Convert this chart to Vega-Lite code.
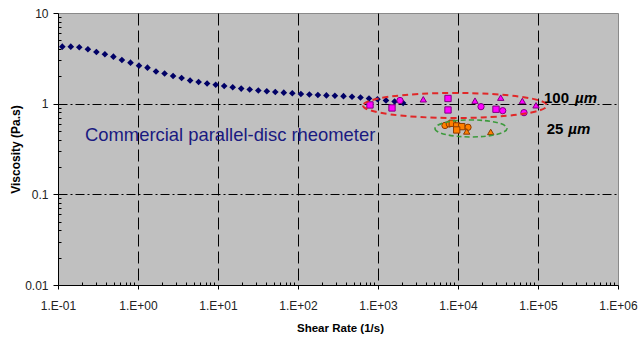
{
  "$schema": "https://vega.github.io/schema/vega-lite/v6.json",
  "width": 560,
  "height": 272,
  "autosize": {"type": "none"},
  "padding": {"left": 58, "top": 13, "right": 23, "bottom": 54},
  "config": {
    "view": {"fill": "#c0c0c0", "stroke": "#8a8a8a", "strokeWidth": 1},
    "font": "Liberation Sans",
    "axis": {"labelFont": "Liberation Sans", "titleFont": "Liberation Sans"}
  },
  "datasets": {
    "rheometer": [
      {"rate": 0.1132, "viscosity": 4.251}, {"rate": 0.1445, "viscosity": 4.251}, {"rate": 0.1845, "viscosity": 4.187},
      {"rate": 0.2364, "viscosity": 3.979}, {"rate": 0.302, "viscosity": 3.715}, {"rate": 0.3857, "viscosity": 3.505},
      {"rate": 0.4926, "viscosity": 3.298}, {"rate": 0.629, "viscosity": 3.032}, {"rate": 0.806, "viscosity": 2.831},
      {"rate": 1.029, "viscosity": 2.624}, {"rate": 1.314, "viscosity": 2.494}, {"rate": 1.679, "viscosity": 2.265},
      {"rate": 2.15, "viscosity": 2.153}, {"rate": 2.746, "viscosity": 2.02}, {"rate": 3.508, "viscosity": 1.92},
      {"rate": 4.48, "viscosity": 1.803}, {"rate": 5.722, "viscosity": 1.735}, {"rate": 7.308, "viscosity": 1.67},
      {"rate": 9.36, "viscosity": 1.616}, {"rate": 11.95, "viscosity": 1.567}, {"rate": 15.27, "viscosity": 1.516},
      {"rate": 19.5, "viscosity": 1.467}, {"rate": 24.9, "viscosity": 1.431}, {"rate": 31.9, "viscosity": 1.398},
      {"rate": 40.74, "viscosity": 1.37}, {"rate": 52.03, "viscosity": 1.346}, {"rate": 66.45, "viscosity": 1.322},
      {"rate": 84.87, "viscosity": 1.302}, {"rate": 108.7, "viscosity": 1.279}, {"rate": 138.8, "viscosity": 1.263},
      {"rate": 177.3, "viscosity": 1.247}, {"rate": 226.5, "viscosity": 1.234}, {"rate": 289.2, "viscosity": 1.222},
      {"rate": 370.5, "viscosity": 1.21}, {"rate": 473.2, "viscosity": 1.191}, {"rate": 604.4, "viscosity": 1.168},
      {"rate": 771.9, "viscosity": 1.141}, {"rate": 985.7, "viscosity": 1.118}, {"rate": 1259, "viscosity": 1.087},
      {"rate": 1613, "viscosity": 1.058}, {"rate": 2060, "viscosity": 1.018}
    ],
    "gap100": [
      {"rate": 794, "viscosity": 0.968, "run": "A"}, {"rate": 1496, "viscosity": 0.897, "run": "A"},
      {"rate": 7499, "viscosity": 1.141, "run": "A"}, {"rate": 7499, "viscosity": 0.852, "run": "A"},
      {"rate": 29854, "viscosity": 0.868, "run": "A"},
      {"rate": 3683, "viscosity": 1.118, "run": "B"}, {"rate": 16314, "viscosity": 1.079, "run": "B"},
      {"rate": 34198, "viscosity": 1.165, "run": "B"}, {"rate": 63680, "viscosity": 1.071, "run": "B"},
      {"rate": 94406, "viscosity": 0.96, "run": "B"},
      {"rate": 1884, "viscosity": 1.084, "run": "C"}, {"rate": 19387, "viscosity": 0.927, "run": "C"},
      {"rate": 36224, "viscosity": 0.837, "run": "C"}, {"rate": 66834, "viscosity": 0.796, "run": "C"}
    ],
    "gap25": [
      {"rate": 6879, "viscosity": 0.575, "run": "C"}, {"rate": 7780, "viscosity": 0.597, "run": "C"},
      {"rate": 13335, "viscosity": 0.549, "run": "C"},
      {"rate": 8487, "viscosity": 0.608, "run": "A"}, {"rate": 9636, "viscosity": 0.568, "run": "A"},
      {"rate": 11125, "viscosity": 0.558, "run": "A"}, {"rate": 9636, "viscosity": 0.513, "run": "A"},
      {"rate": 12845, "viscosity": 0.494, "run": "B"}, {"rate": 25634, "viscosity": 0.488, "run": "B"}
    ]
  },
  "encoding": {
    "x": {
      "field": "rate", "type": "quantitative",
      "scale": {"type": "log", "domain": [0.1, 1000000], "nice": false},
      "axis": {
        "title": "Shear Rate (1/s)",
        "titleFontSize": 11.5, "titleFontWeight": "bold", "titleColor": "#000",
        "titleX": 282, "titleY": 46.5, "titleBaseline": "alphabetic", "titleAlign": "center",
        "values": [0.1,0.2,0.3,0.4,0.5,0.6,0.7,0.8,0.9,1,2,3,4,5,6,7,8,9,10,20,30,40,50,60,70,80,90,100,200,300,400,500,600,700,800,900,1000,2000,3000,4000,5000,6000,7000,8000,9000,10000,20000,30000,40000,50000,60000,70000,80000,90000,100000,200000,300000,400000,500000,600000,700000,800000,900000,1000000],
        "labelExpr": "abs(log(datum.value)/LN10 - round(log(datum.value)/LN10)) < 0.001 ? '1.E' + (datum.value < 1 ? '-' : '+') + '0' + format(abs(round(log(datum.value)/LN10)), 'd') : ''",
        "labelFontSize": 12, "labelColor": "#222", "labelPadding": 11, "labelOverlap": false, "labelFlush": false,
        "tickColor": "#000", "domainColor": "#000",
        "tickSize": {"condition": {"test": "abs(log(datum.value)/LN10 - round(log(datum.value)/LN10)) < 0.001", "value": 4}, "value": -3},
        "grid": true, "gridColor": "#000", "gridDash": [12, 5], "gridWidth": 1,
        "gridOpacity": {"condition": {"test": "abs(log(datum.value)/LN10 - round(log(datum.value)/LN10)) < 0.001 && datum.value > 0.5 && datum.value < 500000", "value": 1}, "value": 0}
      }
    },
    "y": {
      "field": "viscosity", "type": "quantitative",
      "scale": {"type": "log", "domain": [0.01, 10], "nice": false},
      "axis": {
        "title": "Viscosity (Pa.s)",
        "titleFontSize": 12, "titleFontWeight": "bold", "titleColor": "#000",
        "titleX": -38.5, "titleY": 136, "titleBaseline": "alphabetic", "titleAlign": "center", "titleAngle": -90,
        "values": [0.01,0.02,0.03,0.04,0.05,0.06,0.07,0.08,0.09,0.1,0.2,0.3,0.4,0.5,0.6,0.7,0.8,0.9,1,2,3,4,5,6,7,8,9,10],
        "labelExpr": "abs(log(datum.value)/LN10 - round(log(datum.value)/LN10)) < 0.001 ? format(datum.value, '~g') : ''",
        "labelFontSize": 12, "labelColor": "#222", "labelPadding": 5, "labelOverlap": false, "labelFlush": false,
        "tickColor": "#000", "domainColor": "#000",
        "tickSize": {"condition": {"test": "abs(log(datum.value)/LN10 - round(log(datum.value)/LN10)) < 0.001", "value": 5}, "value": -3},
        "grid": true, "gridColor": "#000", "gridDash": [9, 3, 2, 3], "gridWidth": 1,
        "gridOpacity": {"condition": {"test": "abs(log(datum.value)/LN10 - round(log(datum.value)/LN10)) < 0.001 && datum.value > 0.05 && datum.value < 5", "value": 1}, "value": 0}
      }
    }
  },
  "layer": [
    {
      "data": {"name": "rheometer"},
      "mark": {"type": "point", "shape": "diamond", "filled": true, "color": "#000066", "size": 44, "opacity": 1}
    },
    {
      "data": {"name": "gap100"},
      "mark": {"type": "point", "filled": true, "fill": "#ff00ff", "stroke": "#800080", "strokeWidth": 1, "size": 40, "opacity": 1},
      "encoding": {
        "shape": {"field": "run", "type": "nominal", "scale": {"domain": ["A", "B", "C"], "range": ["square", "triangle-up", "circle"]}, "legend": null}
      }
    },
    {
      "data": {"name": "gap25"},
      "mark": {"type": "point", "filled": true, "fill": "#ff8000", "stroke": "#8b3a00", "strokeWidth": 1, "size": 40, "opacity": 1},
      "encoding": {
        "shape": {"field": "run", "type": "nominal", "scale": {"domain": ["A", "B", "C"], "range": ["square", "triangle-up", "circle"]}, "legend": null}
      }
    },
    {
      "data": {"values": [{"rate": 9173, "viscosity": 0.955}]},
      "mark": {"type": "point", "shape": "M-1,0A1,0.136,0,1,0,1,0A1,0.136,0,1,0,-1,0Z", "size": 33856, "filled": false, "stroke": "#e02828", "strokeWidth": 2, "strokeDash": [6, 4], "opacity": 1}
    },
    {
      "data": {"values": [{"rate": 14540, "viscosity": 0.533}]},
      "mark": {"type": "point", "shape": "M-1,0A1,0.236,0,1,0,1,0A1,0.236,0,1,0,-1,0Z", "size": 5184, "filled": false, "stroke": "#3d9a3d", "strokeWidth": 1.6, "strokeDash": [5, 3], "opacity": 1}
    },
    {
      "data": {"values": [{"rate": 0.2176, "viscosity": 0.383, "label": "Commercial parallel-disc rheometer"}]},
      "mark": {"type": "text", "align": "left", "baseline": "alphabetic", "fontSize": 18.4, "color": "#1a1a80"},
      "encoding": {"text": {"field": "label"}}
    },
    {
      "data": {"values": [{"rate": 118850, "viscosity": 1.018, "label": "100"}, {"rate": 128500, "viscosity": 0.4637, "label": "25"}]},
      "mark": {"type": "text", "align": "left", "baseline": "alphabetic", "fontSize": 15, "fontWeight": "bold", "color": "#000"},
      "encoding": {"text": {"field": "label"}}
    },
    {
      "data": {"values": [{"rate": 290100, "viscosity": 1.018, "label": "µm"}, {"rate": 239300, "viscosity": 0.4637, "label": "µm"}]},
      "mark": {"type": "text", "align": "left", "baseline": "alphabetic", "fontSize": 15, "fontWeight": "bold", "fontStyle": "italic", "color": "#000"},
      "encoding": {"text": {"field": "label"}}
    }
  ]
}
